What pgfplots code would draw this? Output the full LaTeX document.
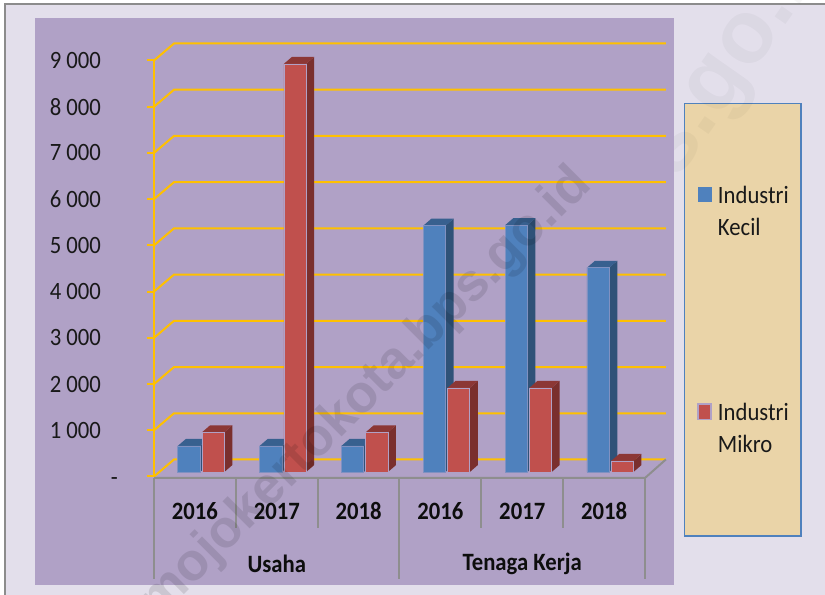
\documentclass[border=0pt]{standalone}
\usepackage{fontspec}
\setmainfont[FakeStretch=0.91]{Carlito}
\newfontfamily\wm{Liberation Sans}
\usepackage{pgfplots}
\pgfplotsset{compat=1.18}
\definecolor{plotbg}{HTML}{B0A1C6}
\definecolor{outer}{HTML}{E3DFEB}
\definecolor{legbg}{HTML}{EAD4A8}
\definecolor{gridy}{HTML}{FFC000}
\definecolor{axgray}{HTML}{8E8E8E}
\definecolor{bfront}{HTML}{4F81BD}
\definecolor{bside}{HTML}{2F5278}
\definecolor{btop}{HTML}{38608F}
\definecolor{rfront}{HTML}{C0504D}
\definecolor{rside}{HTML}{7A2F2D}
\definecolor{rtop}{HTML}{8C3735}
% L, R, R+d, L+d, v, v+d, colour stem
\newcommand{\faces}[7]{%
  \addplot[forget plot,draw=none,fill=#7side] coordinates {(#2,0)(#3,150)(#3,#6)(#2,#5)};
  \addplot[forget plot,draw=none,fill=#7top] coordinates {(#1,#5)(#2,#5)(#3,#6)(#4,#6)};
}
\begin{document}
\begin{tikzpicture}
\useasboundingbox (0,0) rectangle (618.75pt,446.25pt);
\clip (0,0) rectangle (618.75pt,446.25pt);
\begin{scope}[x=0.75pt,y=-0.75pt,yshift=446.25pt]
\fill[white] (0,0) rectangle (825,595);
\fill[outer] (5,4) rectangle (825,595);
\draw[color=gray!90,line width=1.5pt] (5,595) -- (5,4) -- (825,4);
\fill[plotbg] (35,18) rectangle (674,585);
\draw[draw=bfront,fill=legbg,line width=1.4pt] (684.5,103.5) rectangle (801,536);
\end{scope}
% frame axis: grid, ticks, labels
\begin{axis}[
  at={(115.5pt,88.875pt)},anchor=south west,scale only axis,
  width=368.25pt,height=312pt,
  xmin=0,xmax=6,ymin=0,ymax=9000,clip=false,
  axis x line*=bottom,axis y line*=left,
  x axis line style={-,draw=none},
  y axis line style={-,draw=gridy,line width=1.5pt},
  tick align=outside,
  major tick length=5.25pt,
  xtick={0.5,1.5,2.5,3.5,4.5,5.5},
  xticklabels={2016,2017,2018,2016,2017,2018},
  xtick style={draw=none},
  ytick={0,1000,...,9000},
  yticklabels={\raisebox{-6.6pt}[0pt][0pt]{\rlap{\hspace{7.5pt}-}},1 000,2 000,3 000,4 000,5 000,6 000,7 000,8 000,9 000},
  ytick style={draw=gridy,line width=1.5pt},
  xticklabel style={font=\fontsize{18.7}{22}\selectfont\bfseries,text=black!95,text height=12pt,text depth=0pt,yshift=-11.2pt},
  yticklabel style={font=\fontsize{18.7}{22}\selectfont,text=black!90,anchor=east,xshift=-31pt},
]
\addplot[forget plot,gridy,line width=1.5pt] coordinates {(0,0)(0.2445,368)(6.255,368)};
\addplot[forget plot,gridy,line width=1.5pt] coordinates {(0,1000)(0.2445,1368)(6.255,1368)};
\addplot[forget plot,gridy,line width=1.5pt] coordinates {(0,2000)(0.2445,2368)(6.255,2368)};
\addplot[forget plot,gridy,line width=1.5pt] coordinates {(0,3000)(0.2445,3368)(6.255,3368)};
\addplot[forget plot,gridy,line width=1.5pt] coordinates {(0,4000)(0.2445,4368)(6.255,4368)};
\addplot[forget plot,gridy,line width=1.5pt] coordinates {(0,5000)(0.2445,5368)(6.255,5368)};
\addplot[forget plot,gridy,line width=1.5pt] coordinates {(0,6000)(0.2445,6368)(6.255,6368)};
\addplot[forget plot,gridy,line width=1.5pt] coordinates {(0,7000)(0.2445,7368)(6.255,7368)};
\addplot[forget plot,gridy,line width=1.5pt] coordinates {(0,8000)(0.2445,8368)(6.255,8368)};
\addplot[forget plot,gridy,line width=1.5pt] coordinates {(0,9000)(0.2445,9368)(6.255,9368)};
\addplot[forget plot,axgray,line width=1.5pt] coordinates {(0,-32)(6,-32)(6.255,368)};
\addplot[forget plot,axgray,line width=1.5pt] coordinates {(0,-32)(0,-2218)};
\addplot[forget plot,axgray,line width=1.5pt] coordinates {(3,-32)(3,-2218)};
\addplot[forget plot,axgray,line width=1.5pt] coordinates {(6,-32)(6,-2218)};
\addplot[forget plot,axgray,line width=1.5pt] coordinates {(1,-32)(1,-1115)};
\addplot[forget plot,axgray,line width=1.5pt] coordinates {(2,-32)(2,-1115)};
\addplot[forget plot,axgray,line width=1.5pt] coordinates {(4,-32)(4,-1115)};
\addplot[forget plot,axgray,line width=1.5pt] coordinates {(5,-32)(5,-1115)};
\node[font=\fontsize{18.7}{22}\selectfont\bfseries,text=black!95] at (axis cs:1.5,-1880) {Usaha};
\node[font=\fontsize{18.7}{22}\selectfont\bfseries,text=black!95] at (axis cs:4.5,-1880) {Tenaga Kerja};
\end{axis}
% bars: same rectangle, zero of the bars lies on the 3-D floor
\begin{axis}[
  at={(115.5pt,88.875pt)},anchor=south west,scale only axis,
  width=368.25pt,height=312pt,
  xmin=-0.075,xmax=5.925,ymin=-97,ymax=8903,clip=false,
  hide axis,
  legend style={at={(1.106,0.717)},anchor=north west,draw=none,fill=none,
    font=\fontsize{18.7}{24}\selectfont,text=black!90,
    row sep=140.5pt,column sep=2.5pt,inner sep=0pt,outer sep=0pt,
    cells={anchor=west}},
  legend cell align=left,
]
\faces{0.216}{0.488}{0.586}{0.314}{565}{715}{b}
\faces{1.216}{1.488}{1.586}{1.314}{565}{715}{b}
\faces{2.216}{2.488}{2.586}{2.314}{565}{715}{b}
\faces{3.216}{3.488}{3.586}{3.314}{5330}{5480}{b}
\faces{4.216}{4.488}{4.586}{4.314}{5340}{5490}{b}
\faces{5.216}{5.488}{5.586}{5.314}{4420}{4570}{b}
\addplot[ybar,bar width=0.272,bar shift=-0.148,draw=plotbg!50!bfront,line width=0.5pt,fill=bfront,
  legend image code/.code={\fill[bfront] (0pt,-6.5pt) rectangle (10pt,4.5pt);}]
  coordinates {(0.5,565)(1.5,565)(2.5,565)(3.5,5330)(4.5,5340)(5.5,4420)};
\addlegendentry{\begin{tabular}[t]{@{}l@{}}Industri\\Kecil\end{tabular}}
\faces{0.512}{0.784}{0.882}{0.610}{860}{1010}{r}
\faces{1.512}{1.784}{1.882}{1.610}{8830}{8980}{r}
\faces{2.512}{2.784}{2.882}{2.610}{860}{1010}{r}
\faces{3.512}{3.784}{3.882}{3.610}{1820}{1970}{r}
\faces{4.512}{4.784}{4.882}{4.610}{1820}{1970}{r}
\faces{5.512}{5.784}{5.882}{5.610}{240}{390}{r}
\addplot[ybar,bar width=0.272,bar shift=0.148,draw=plotbg,line width=0.5pt,fill=rfront,
  legend image code/.code={\path[fill=rfront,draw=plotbg,line width=1.2pt] (0pt,-7pt) rectangle (10pt,4.5pt);}]
  coordinates {(0.5,860)(1.5,8830)(2.5,860)(3.5,1820)(4.5,1820)(5.5,240)};
\addlegendentry{\begin{tabular}[t]{@{}l@{}}Industri\\Mikro\end{tabular}}
\end{axis}
% watermark
\begin{scope}[x=0.75pt,y=-0.75pt,yshift=446.25pt]
\node[font=\wm\bfseries\fontsize{39.7}{41}\selectfont,text=black,text opacity=0.11,rotate=45] at (366,394) {mojokertokota.bps.go.id};
\begin{scope}
\clip (674,0) rectangle (825,595);
\node[font=\wm\bfseries\fontsize{67}{70}\selectfont,text=black,text opacity=0.03,rotate=55] at (526,356) {mojokertokota.bps.go.id};
\end{scope}
\end{scope}
\end{tikzpicture}
\end{document}
